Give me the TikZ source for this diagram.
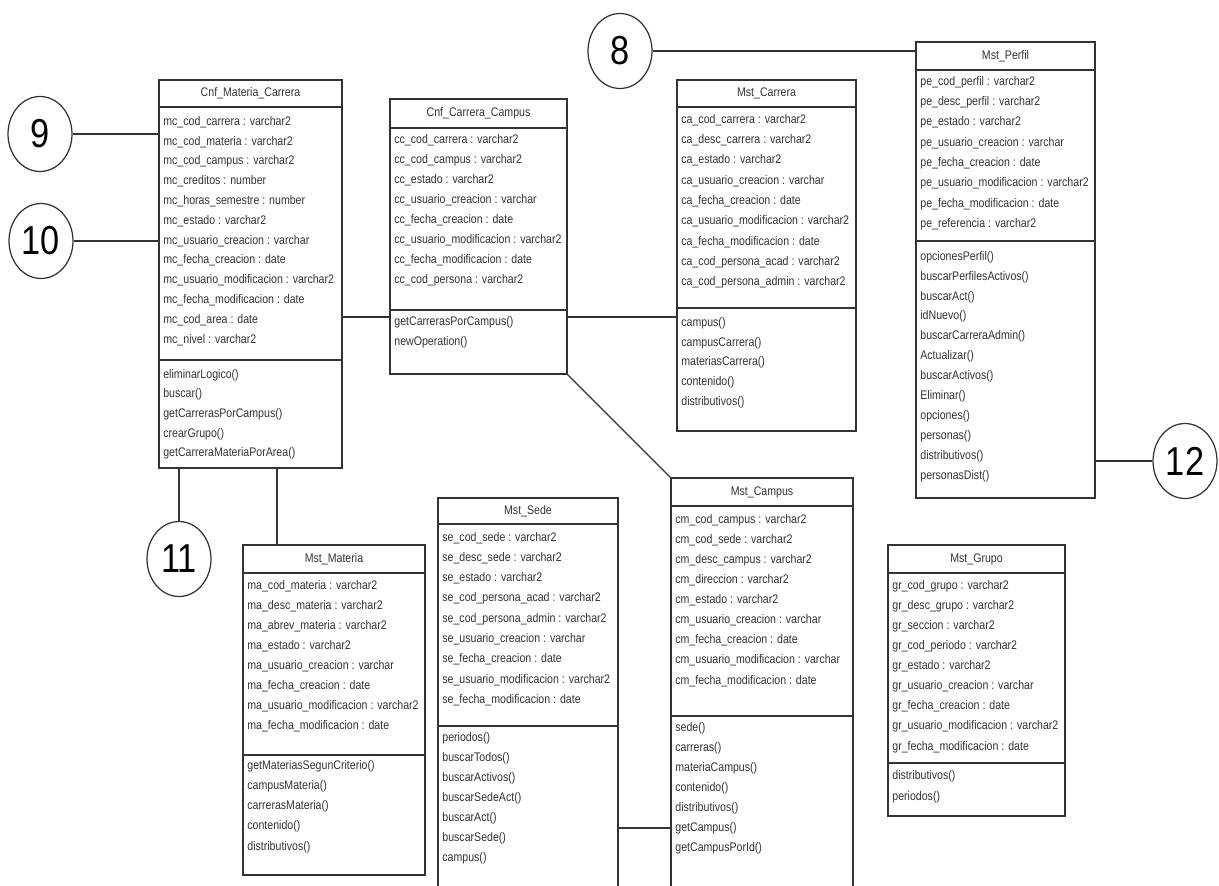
\documentclass[tikz,border=0pt]{standalone}
\usepackage{fontspec}
\newfontfamily\umlfont[FakeStretch=0.85]{Liberation Sans}
\usetikzlibrary{fit,shapes.geometric}

\tikzset{
  link/.style={draw=black!80, line width=0.7pt},
  classbox/.style={link, inner sep=0pt, outer sep=0pt},
  row/.style={anchor=west, inner sep=0pt, text=black!80, font=\umlfont\fontsize{7.1}{8}\selectfont},
  classname/.style={inner sep=0pt, text=black!80, font=\umlfont\fontsize{7.1}{8}\selectfont},
  num/.style={link, ellipse, minimum width=1.28cm, minimum height=1.5cm, inner sep=0pt, fill=white, font=\umlfont\fontsize{23}{23}\selectfont}
}

% box: name, left, top, right, bottom, header line, separator, title
\newcommand{\umlclass}[8]{%
  \node[classbox, fit={(#2,#3) (#4,#5)}] (#1) {};
  \draw[link] (#2,#6) -- (#4,#6) (#2,#7) -- (#4,#7);
  \node[classname] at ({(#2+#4)/2},{(#3+#6)/2}) {#8};}
% rows: x, first y, step, list
\newcommand{\umlrows}[4]{%
  \foreach \r [count=\i from 0] in {#4} \node[row] at (#1,{#2+\i*#3}) {\r};}

\begin{document}
\begin{tikzpicture}[x=0.02cm, y=-0.02cm]
\useasboundingbox[fill=white] (0,0) rectangle (1219,885);

\umlclass{cmc}{159}{80}{342}{468}{107}{360}{Cnf\_Materia\_Carrera}
\umlrows{163}{122}{19.8}{mc\_cod\_carrera : varchar2, mc\_cod\_materia : varchar2, mc\_cod\_campus : varchar2, mc\_creditos : number, mc\_horas\_semestre : number, mc\_estado : varchar2, mc\_usuario\_creacion : varchar, mc\_fecha\_creacion : date, mc\_usuario\_modificacion : varchar2, mc\_fecha\_modificacion : date, mc\_cod\_area : date, mc\_nivel : varchar2}
\umlrows{163}{375}{19.6}{eliminarLogico(), buscar(), getCarrerasPorCampus(), crearGrupo(), getCarreraMateriaPorArea()}

\umlclass{ccc}{390}{99}{567}{374}{128}{310}{Cnf\_Carrera\_Campus}
\umlrows{394}{140}{20.1}{cc\_cod\_carrera : varchar2, cc\_cod\_campus : varchar2, cc\_estado : varchar2, cc\_usuario\_creacion : varchar, cc\_fecha\_creacion : date, cc\_usuario\_modificacion : varchar2, cc\_fecha\_modificacion : date, cc\_cod\_persona : varchar2}
\umlrows{394}{322}{20}{getCarrerasPorCampus(), newOperation()}

\umlclass{mc}{677}{80}{856}{431}{107}{308}{Mst\_Carrera}
\umlrows{681}{120}{20.3}{ca\_cod\_carrera : varchar2, ca\_desc\_carrera : varchar2, ca\_estado : varchar2, ca\_usuario\_creacion : varchar, ca\_fecha\_creacion : date, ca\_usuario\_modificacion : varchar2, ca\_fecha\_modificacion : date, ca\_cod\_persona\_acad : varchar2, ca\_cod\_persona\_admin : varchar2}
\umlrows{681}{323}{19.8}{campus(), campusCarrera(), materiasCarrera(), contenido(), distributivos()}

\umlclass{mp}{916}{42}{1095}{498}{70}{241}{Mst\_Perfil}
\umlrows{920}{82}{20.3}{pe\_cod\_perfil : varchar2, pe\_desc\_perfil : varchar2, pe\_estado : varchar2, pe\_usuario\_creacion : varchar, pe\_fecha\_creacion : date, pe\_usuario\_modificacion : varchar2, pe\_fecha\_modificacion : date, pe\_referencia : varchar2}
\umlrows{920}{257}{19.9}{opcionesPerfil(), buscarPerfilesActivos(), buscarAct(), idNuevo(), buscarCarreraAdmin(), Actualizar(), buscarActivos(), Eliminar(), opciones(), personas(), distributivos(), personasDist()}

\umlclass{mma}{243}{545}{425}{875}{573}{755}{Mst\_Materia}
\umlrows{247}{586}{20.1}{ma\_cod\_materia : varchar2, ma\_desc\_materia : varchar2, ma\_abrev\_materia : varchar2, ma\_estado : varchar2, ma\_usuario\_creacion : varchar, ma\_fecha\_creacion : date, ma\_usuario\_modificacion : varchar2, ma\_fecha\_modificacion : date}
\umlrows{247}{766}{20.2}{getMateriasSegunCriterio(), campusMateria(), carrerasMateria(), contenido(), distributivos()}

\umlclass{ms}{438}{498}{618}{895}{524}{726}{Mst\_Sede}
\umlrows{442}{538}{20.25}{se\_cod\_sede : varchar2, se\_desc\_sede : varchar2, se\_estado : varchar2, se\_cod\_persona\_acad : varchar2, se\_cod\_persona\_admin : varchar2, se\_usuario\_creacion : varchar, se\_fecha\_creacion : date, se\_usuario\_modificacion : varchar2, se\_fecha\_modificacion : date}
\umlrows{442}{738}{20}{periodos(), buscarTodos(), buscarActivos(), buscarSedeAct(), buscarAct(), buscarSede(), campus()}

\umlclass{mca}{671}{478}{853}{895}{506}{716}{Mst\_Campus}
\umlrows{675}{520}{20.1}{cm\_cod\_campus : varchar2, cm\_cod\_sede : varchar2, cm\_desc\_campus : varchar2, cm\_direccion : varchar2, cm\_estado : varchar2, cm\_usuario\_creacion : varchar, cm\_fecha\_creacion : date, cm\_usuario\_modificacion : varchar, cm\_fecha\_modificacion : date}
\umlrows{675}{728}{20}{sede(), carreras(), materiaCampus(), contenido(), distributivos(), getCampus(), getCampusPorId()}

\umlclass{mg}{888}{545}{1065}{816}{573}{763}{Mst\_Grupo}
\umlrows{892}{586}{20.1}{gr\_cod\_grupo : varchar2, gr\_desc\_grupo : varchar2, gr\_seccion : varchar2, gr\_cod\_periodo : varchar2, gr\_estado : varchar2, gr\_usuario\_creacion : varchar, gr\_fecha\_creacion : date, gr\_usuario\_modificacion : varchar2, gr\_fecha\_modificacion : date}
\umlrows{892}{776}{21}{distributivos(), periodos()}

\node[num] (n9) at (40,134) {9};
\node[num] (n10) at (41,241) {10};
\node[num] (n11) at (179,559) {11};
\node[num] (n8) at (620,51) {8};
\node[num] (n12) at (1185,461) {12};

\coordinate (kx) at (277,0);
\coordinate (ky) at (0,317);
\coordinate (kz) at (0,828);

\draw[link] (n9.east) -- (n9.east -| cmc.west);
\draw[link] (n10.east) -- (n10.east -| cmc.west);
\draw[link] (n11.north) -- (n11.north |- cmc.south);
\draw[link] (kx |- cmc.south) -- (kx |- mma.north);
\draw[link] (ky -| cmc.east) -- (ky -| ccc.west);
\draw[link] (ky -| ccc.east) -- (ky -| mc.west);
\draw[link] (ccc.south east) -- (mca.north west);
\draw[link] (kz -| ms.east) -- (kz -| mca.west);
\draw[link] (n8.east) -- (n8.east -| mp.west);
\draw[link] (n12.west) -- (n12.west -| mp.east);
\end{tikzpicture}
\end{document}
